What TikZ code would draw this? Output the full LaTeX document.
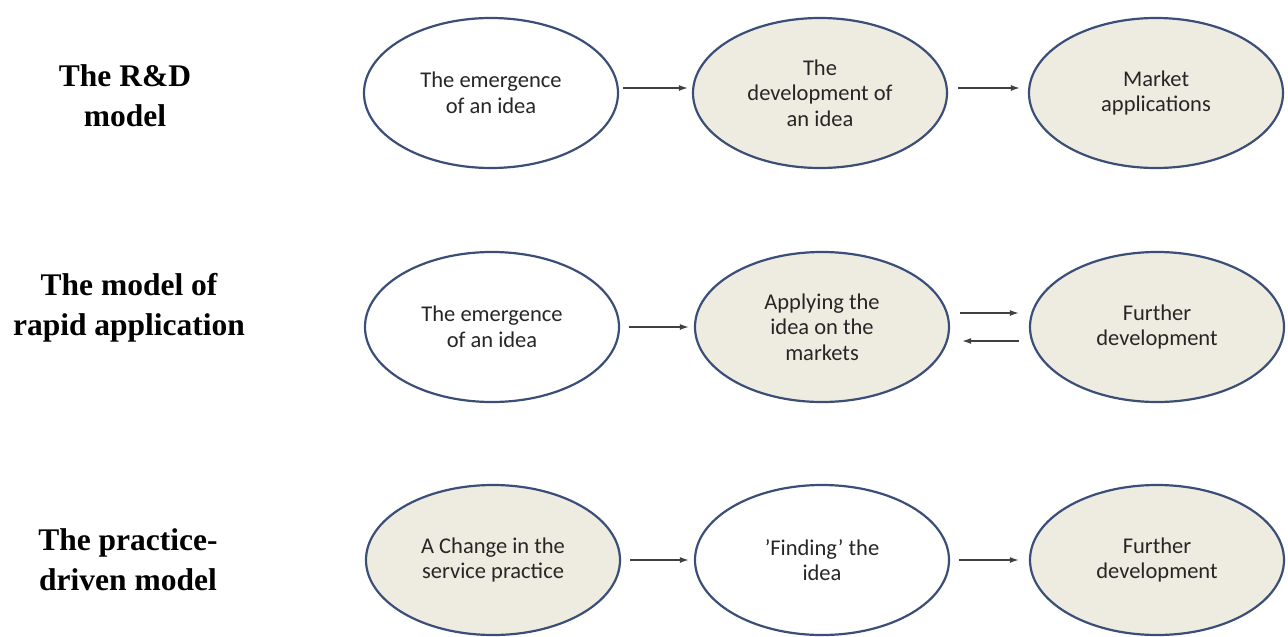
\documentclass[tikz,border=0pt]{standalone}
\usepackage{fontspec}
\setmainfont{Carlito}
\newfontfamily\labelfont{Liberation Serif}
\usetikzlibrary{arrows.meta,shapes.geometric}
\definecolor{edgeblue}{HTML}{3B4E78}
\definecolor{beige}{HTML}{EEECE1}
\definecolor{txt}{HTML}{262626}
\definecolor{arrowgray}{HTML}{404040}
\tikzset{
  oval/.style={ellipse, draw=edgeblue, line width=2.2pt, minimum width=254pt, minimum height=150pt,
    inner sep=0pt, align=center, text=txt, font=\fontsize{22.5}{25.5}\selectfont},
  plain/.style={oval, fill=white},
  shaded/.style={oval, fill=beige},
  modellabel/.style={align=center, text=black, font=\labelfont\bfseries\fontsize{31.5}{40}\selectfont},
  arr/.style={draw=arrowgray, line width=1.4pt, -{Latex[length=9pt,width=6pt]}}
}
\begin{document}
\begin{tikzpicture}[x=1pt,y=-1pt]
\useasboundingbox (0,0) rectangle (1288,637);
% labels
\node[modellabel] (l1) at (125,96) {The R\&D\\model};
\node[modellabel] (l2) at (129,308) {The model of\\rapid application};
\node[modellabel] (l3) at (128,560) {The practice-\\driven model};
% row 1
\node[plain]  (e11) at (491,93) {The emergence\\of an idea};
\node[shaded] (e12) at (820,93) {The\\development of\\an idea};
\node[shaded] (e13) at (1156,93) {Market\\applications};
% row 2
\node[plain]  (e21) at (492,327) {The emergence\\of an idea};
\node[shaded] (e22) at (822,327) {Applying the\\idea on the\\markets};
\node[shaded] (e23) at (1157,327) {Further\\development};
% row 3
\node[shaded] (e31) at (493,560) {A Change in the\\service practice};
\node[plain]  (e32) at (822,560) {'Finding' the\\idea};
\node[shaded] (e33) at (1157,560) {Further\\development};
% arrows
\draw[arr, shorten <=4pt, shorten >=4pt] ([yshift=5pt]e11.east) -- ([yshift=5pt]e12.west);
\draw[arr, shorten <=10pt, shorten >=8pt] ([yshift=5pt]e12.east) -- ([yshift=5pt]e13.west);
\draw[arr, shorten <=9pt, shorten >=5pt] (e21.east) -- (e22.west);
\draw[arr, shorten <=10pt, shorten >=10pt] ([yshift=14pt]e22.east) -- ([yshift=14pt]e23.west);
\draw[arr, shorten <=10pt, shorten >=12pt] ([yshift=-14pt]e23.west) -- ([yshift=-14pt]e22.east);
\draw[arr, shorten <=9pt, shorten >=5pt] (e31.east) -- (e32.west);
\draw[arr, shorten <=9pt, shorten >=10pt] (e32.east) -- (e33.west);
\end{tikzpicture}
\end{document}
